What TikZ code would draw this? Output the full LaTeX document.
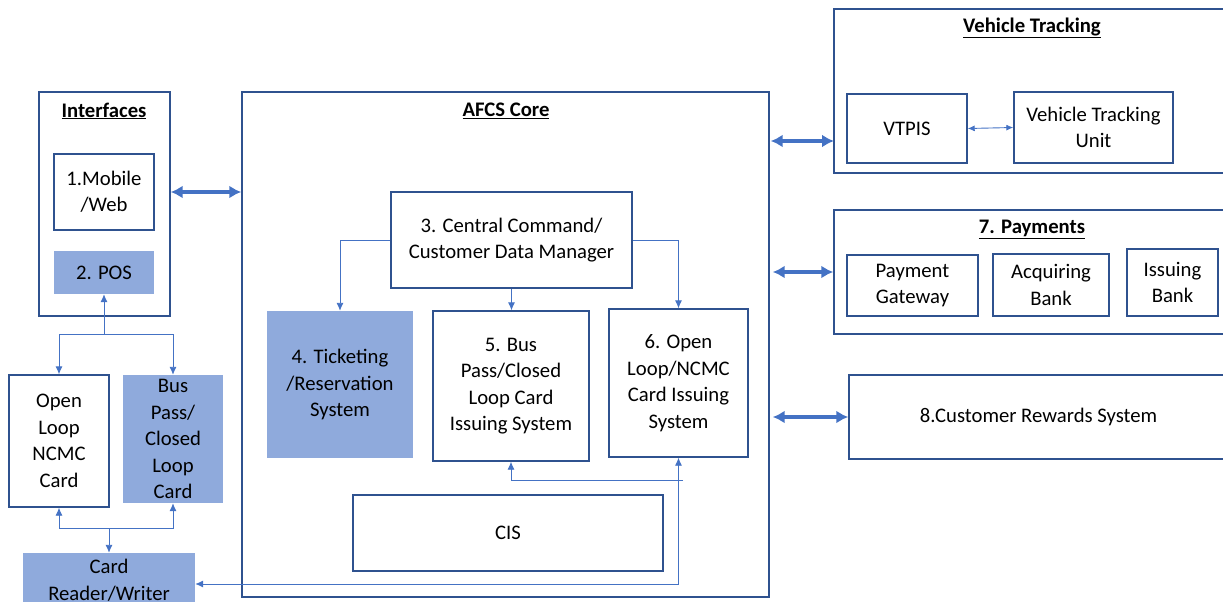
\documentclass[tikz,border=0pt]{standalone}
\usepackage{fontspec}
\setmainfont{Carlito}
\usetikzlibrary{arrows.meta}
\definecolor{edge}{HTML}{2F528F}
\definecolor{shade}{HTML}{8FAADC}
\definecolor{link}{HTML}{4472C4}
\tikzset{
  every node/.style={font=\fontsize{20.7}{26.5}\selectfont, align=center, inner sep=0pt},
  box/.style={draw=edge, line width=1.4pt, fill=white},
  filled/.style={fill=shade},
  frame/.style={draw=edge, line width=1.4pt},
  heading/.style={font=\fontsize{20.7}{26.5}\selectfont\bfseries},
  thinlink/.style={draw=link, line width=0.9pt, -{Latex[length=8pt,width=7pt]}},
  thinboth/.style={draw=link, line width=0.9pt, {Latex[length=7pt,width=6pt]}-{Latex[length=7pt,width=6pt]}},
  thicklink/.style={draw=link, line width=3.8pt, {Latex[length=12pt,width=13pt]}-{Latex[length=12pt,width=13pt]}},
}
\begin{document}
\begin{tikzpicture}[x=1pt,y=-1pt]
\useasboundingbox (0,0) rectangle (1223,602);
\clip (0,0) rectangle (1223,602);

% Interfaces group
\node[frame, minimum width=131pt, minimum height=224pt] (ifc) at (104.5,204) {};
\node[heading] (ifct) at (104,111) {\underline{Interfaces}};
\node[box, minimum width=100pt, minimum height=76pt] (mob) at (104,192) {1.Mobile\\/Web};
\node[filled, minimum width=100pt, minimum height=43pt] (pos) at (104,272.5) {2. POS};

% Cards and reader
\node[box, minimum width=100pt, minimum height=132pt] (ol) at (59,441) {Open\\Loop\\NCMC\\Card};
\node[filled, minimum width=100pt, minimum height=128pt] (bp) at (173,439) {Bus\\Pass/\\Closed\\Loop\\Card};
\node[filled, minimum width=172pt, minimum height=54pt] (crw) at (109,580) {Card\\Reader/Writer};

% AFCS core
\node[frame, minimum width=527pt, minimum height=505pt] (afcs) at (505.5,344.5) {};
\node[heading] (afcst) at (506,111) {\underline{AFCS Core}};
\node[box, minimum width=241pt, minimum height=96pt] (ccm) at (511.5,240) {3. Central Command/\\Customer Data Manager};
\node[filled, minimum width=146pt, minimum height=147pt] (tick) at (340,384.5) {4. Ticketing\\/Reservation\\System};
\node[box, minimum width=156pt, minimum height=150pt] (bus) at (511,386) {5. Bus\\Pass/Closed\\Loop Card\\Issuing System};
\node[box, minimum width=139pt, minimum height=148pt] (open) at (678.5,383) {6. Open\\Loop/NCMC\\Card Issuing\\System};
\node[box, minimum width=310pt, minimum height=76pt] (cis) at (508,533) {CIS};

% Vehicle tracking group
\node[frame, minimum width=396pt, minimum height=164pt] (vt) at (1032,91) {};
\node[heading] (vtt) at (1032,28) {\underline{Vehicle Tracking}};
\node[box, minimum width=120pt, minimum height=69pt] (vtpis) at (907,128.5) {VTPIS};
\node[box, minimum width=159pt, minimum height=71pt] (vtu) at (1093.5,127.5) {Vehicle Tracking\\Unit};

% Payments group
\node[frame, minimum width=396pt, minimum height=124pt] (pay) at (1032,272) {};
\node[heading] (payt) at (1032,229) {\underline{7. Payments}};
\node[box, minimum width=131pt, minimum height=61pt] (pg) at (912.5,285.5) {Payment\\Gateway};
\node[box, minimum width=116pt, minimum height=62pt] (ab) at (1051,285) {Acquiring\\Bank};
\node[box, minimum width=91pt, minimum height=67pt] (ib) at (1172.5,282.5) {Issuing\\Bank};

% Rewards
\node[box, minimum width=379pt, minimum height=84pt] (crs) at (1038.5,417) {8.Customer Rewards System};

% Thick links between groups
\draw[thicklink] (ifc.east |- mob) -- (afcs.west |- mob);
\coordinate (vtin) at (834,141);
\draw[thicklink] ([xshift=1pt]afcs.east |- vtin) -- (vtin);
\draw[thicklink] ([xshift=3pt]afcs.east |- pay.west) -- (pay.west);
\draw[thicklink] ([xshift=3pt]afcs.east |- crs.west) -- (crs.west);
\draw[thinboth] (vtpis.east) -- (vtu.west);

% POS to cards
\coordinate (jpos) at (104,334);
\draw[thinlink] (jpos) -- (pos.south);
\draw[thinlink] (jpos) -| (ol.north);
\draw[thinlink] (jpos) -| (bp.north);

% Reader to cards
\coordinate (jrw) at (109,528);
\draw[thinlink] (jrw) -- (crw.north);
\draw[thinlink] (jrw) -| (ol.south);
\draw[thinlink] (jrw) -| (bp.south);

% Central command fan-out
\draw[thinlink] (ccm.west) -| (tick.north);
\draw[thinlink] (ccm.east) -| (open.north);
\draw[thinlink] (ccm.south) -- (ccm.south |- bus.north);

% Issuing systems to the reader
\coordinate (jis) at (678.5,584);
\coordinate (jbus) at (683,480);
\draw[thinlink] (jis) -- (open.south);
\draw[thinlink] (jis) -- (crw.east |- jis);
\draw[thinlink] (jbus) -| (bus.south);
\end{tikzpicture}
\end{document}
